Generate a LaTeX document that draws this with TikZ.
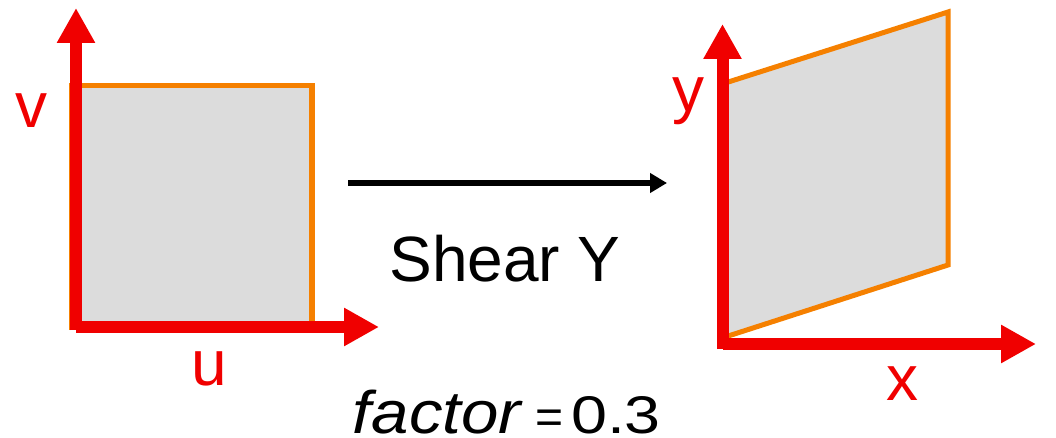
\documentclass[tikz,border=0pt]{standalone}
\usepackage{fontspec}
\usepackage{graphicx}
\setmainfont{Liberation Sans}
\usetikzlibrary{arrows.meta}
\definecolor{axred}{RGB}{240,0,0}
\definecolor{edgeorange}{RGB}{245,128,0}
\definecolor{fillgray}{RGB}{220,220,220}
\tikzset{
  axis/.style={draw=axred, line width=12pt, -{Triangle[length=35pt,width=36pt]}},
  quadshape/.style={fill=fillgray, draw=edgeorange, line width=5.5pt, line join=miter},
  axlabel/.style={text=axred, anchor=base, inner sep=0pt, font=\fontsize{64}{70}\selectfont},
  blackarrow/.style={draw=black, line width=6pt, -{Triangle[length=17pt,width=19pt]}},
  caption/.style={anchor=base, inner sep=0pt, font=\fontsize{64}{72}\selectfont},
  eqpart/.style={anchor=base, inner sep=0pt, text depth=0pt}
}
\begin{document}
\begin{tikzpicture}[x=1pt,y=-1pt]
\useasboundingbox (0,0) rectangle (1056,438);
% left square
\coordinate (sq1) at (72,85.5);
\coordinate (sq2) at (312,85.5);
\coordinate (sq3) at (312,327);
\coordinate (sq4) at (72,327);
\draw[quadshape] (sq1) -- (sq2) -- (sq3) -- (sq4) -- cycle;
\coordinate (o1) at (76,327);
\coordinate (o1v) at (76,330);
\coordinate (vtip) at (76,8);
\coordinate (utip) at (379,327);
\draw[axis] (o1v) -- (vtip);
\draw[axis] (o1) -- (utip);
\node[axlabel] (v) at (32,128) {v};
\node[axlabel] (u) at (209,385) {u};
% right parallelogram
\coordinate (p1) at (722,84);
\coordinate (p2) at (948,12);
\coordinate (p3) at (948,265);
\coordinate (p4) at (722,338);
\draw[quadshape, line width=5pt] (p1) -- (p2) -- (p3) -- (p4) -- cycle;
\coordinate (o2) at (722.5,344);
\coordinate (o2v) at (722.5,349);
\coordinate (ytip) at (722.5,24);
\coordinate (xtip) at (1036,344);
\draw[axis] (o2v) -- (ytip);
\draw[axis] (o2) -- (xtip);
\node[axlabel] (y) at (688,112) {y};
\node[axlabel] (x) at (902,400) {x};
% transform arrow
\coordinate (a1) at (348,183);
\coordinate (a2) at (667,183);
\draw[blackarrow] (a1) -- (a2);
\node[caption] (shear) at (505,281) {Shear Y};
\node[eqpart] (factor) at (437,433) {\scalebox{1.12}[1]{\fontsize{60}{66}\selectfont\itshape factor}};
\node[eqpart] (eq) at (549.5,433) {\fontsize{48}{52}\selectfont =};
\node[eqpart] (val) at (616,433) {\scalebox{1.22}[1]{\fontsize{53}{60}\selectfont 0.3}};
\end{tikzpicture}
\end{document}
